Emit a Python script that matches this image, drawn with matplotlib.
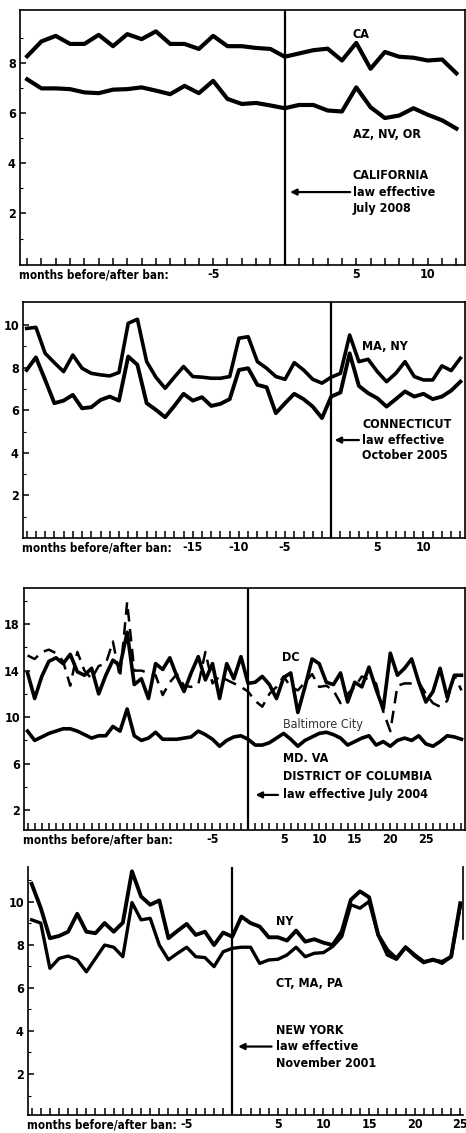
import numpy as np
import matplotlib
matplotlib.use("Agg")
import matplotlib.pyplot as plt
from matplotlib.ticker import FixedLocator, FixedFormatter
from matplotlib import font_manager as fm

plt.rcParams['font.family'] = ['DejaVu Sans']
plt.rcParams['font.stretch'] = 'condensed'
plt.rcParams['font.weight'] = 'bold'

# ---------------- data ----------------
# Panel 1: California (months -18 .. 12)
months_ca = np.arange(-18, 13)
ca = [8.26, 8.85, 9.07, 8.75, 8.75, 9.11, 8.66, 9.14, 8.94, 9.25, 8.75, 8.75, 8.55, 9.07,
      8.66, 8.66, 8.59, 8.55, 8.24, 8.37, 8.50, 8.56, 8.09, 8.79, 7.76, 8.43, 8.24, 8.20,
      8.09, 8.13, 7.58]
az_nv_or = [7.34, 6.98, 6.98, 6.95, 6.82, 6.79, 6.93, 6.95, 7.02, 6.89, 6.75, 7.08, 6.79,
            7.28, 6.56, 6.36, 6.40, 6.30, 6.19, 6.32, 6.32, 6.10, 6.06, 7.02, 6.23, 5.80,
            5.90, 6.19, 5.93, 5.71, 5.38]

# Panel 2: Connecticut (months -33 .. 14)
months_ct = np.arange(-33, 15)
ma_ny = [9.84, 9.89, 8.67, 8.23, 7.81, 8.59, 7.97, 7.73, 7.66, 7.61, 7.77, 10.08, 10.27,
         8.28, 7.55, 7.03, 7.55, 8.05, 7.58, 7.55, 7.50, 7.50, 7.58, 9.38, 9.45, 8.28,
         7.97, 7.58, 7.45, 8.23, 7.89, 7.45, 7.27, 7.55, 7.73, 9.53, 8.28, 8.39, 7.81,
         7.34, 7.73, 8.28, 7.58, 7.42, 7.42, 8.08, 7.86, 8.44]
ct = [7.89, 8.48, 7.42, 6.33, 6.45, 6.72, 6.09, 6.14, 6.48, 6.64, 6.45, 8.52, 8.13, 6.33,
      6.02, 5.67, 6.20, 6.77, 6.45, 6.61, 6.20, 6.30, 6.52, 7.89, 7.97, 7.19, 7.08, 5.86,
      6.33, 6.77, 6.52, 6.17, 5.63, 6.64, 6.83, 8.67, 7.14, 6.80, 6.56, 6.17, 6.52, 6.88,
      6.64, 6.77, 6.52, 6.64, 6.92, 7.34]

# Panel 3: District of Columbia (months -31 .. 30)
months_dc = np.arange(-31, 31)
dc = [13.8, 11.6, 13.5, 14.8, 15.1, 14.6, 15.4, 13.9, 13.6, 14.2, 12.0, 13.6, 14.9, 14.4,
      17.3, 12.8, 13.3, 11.6, 14.6, 14.1, 15.1, 13.5, 12.2, 13.8, 15.2, 13.2, 14.6, 11.6,
      14.6, 13.3, 15.2, 12.9, 13.0, 13.5, 12.8, 11.6, 13.4, 13.8, 10.4, 12.6, 15.0, 14.6,
      13.0, 12.8, 13.8, 11.3, 13.0, 12.6, 14.3, 12.4, 10.7, 15.5, 13.6, 14.2, 15.0, 13.0,
      11.3, 12.2, 14.2, 11.7, 13.6, 13.6]
baltimore = [15.3, 15.0, 15.6, 15.8, 15.5, 14.8, 12.7, 15.6, 14.0, 13.3, 14.4, 14.6, 16.5,
             13.4, 19.9, 14.0, 14.0, 13.8, 13.6, 11.9, 13.0, 13.7, 12.7, 12.6, 12.8, 15.6,
             12.9, 13.5, 13.2, 12.9, 12.6, 12.2, 11.4, 10.9, 12.0, 12.6, 13.5, 12.6, 12.3,
             13.0, 13.7, 12.6, 12.7, 12.3, 11.2, 12.0, 12.6, 13.5, 13.2, 12.9, 10.5, 8.8,
             12.7, 12.9, 12.9, 13.0, 12.0, 11.2, 10.9, 11.4, 13.6, 12.3]
md_va = [8.8, 8.0, 8.3, 8.6, 8.8, 9.0, 9.0, 8.8, 8.5, 8.2, 8.4, 8.4, 9.2, 8.8, 10.7, 8.4,
         8.0, 8.2, 8.7, 8.1, 8.1, 8.1, 8.2, 8.3, 8.8, 8.5, 8.1, 7.5, 8.0, 8.3, 8.4, 8.1,
         7.6, 7.6, 7.8, 8.2, 8.6, 8.1, 7.5, 8.0, 8.3, 8.6, 8.7, 8.5, 8.2, 7.6, 7.9, 8.2,
         8.4, 7.6, 7.9, 7.5, 8.0, 8.2, 8.0, 8.4, 7.7, 7.5, 7.9, 8.4, 8.3, 8.1]

# Panel 4: New York (months -22 .. 25)
months_ny = np.arange(-22, 26)
ny = [10.82, 9.70, 8.30, 8.40, 8.60, 9.43, 8.60, 8.53, 9.00, 8.60, 9.02, 11.40, 10.23,
      9.85, 10.05, 8.30, 8.64, 8.96, 8.45, 8.60, 7.98, 8.56, 8.37, 9.30, 9.00, 8.84, 8.34,
      8.34, 8.19, 8.65, 8.14, 8.25, 8.09, 7.98, 8.60, 10.08, 10.47, 10.20, 8.45, 7.75,
      7.36, 7.88, 7.52, 7.20, 7.29, 7.20, 7.44, 9.92]
ct_ma_pa = [9.15, 9.00, 6.90, 7.36, 7.47, 7.30, 6.74, 7.36, 7.98, 7.88, 7.44, 9.95, 9.15,
            9.22, 7.98, 7.30, 7.60, 7.88, 7.44, 7.40, 6.98, 7.67, 7.83, 7.88, 7.88, 7.13,
            7.29, 7.32, 7.52, 7.88, 7.44, 7.60, 7.63, 7.91, 8.37, 9.85, 9.69, 10.00, 8.45,
            7.52, 7.32, 7.88, 7.47, 7.16, 7.32, 7.13, 7.44, 9.77]

xlabels_ca = {-5: '-5', 5: '5', 10: '10'}
xlabels_ct = {-15: '-15', -10: '-10', -5: '-5', 5: '5', 10: '10'}
xlabels_dc = {-5: '-5', 5: '5', 10: '10', 15: '15', 20: '20', 25: '25'}
xlabels_ny = {-5: '-5', 5: '5', 10: '10', 15: '15', 20: '20', 25: '25'}

# ---------------- figure ----------------
W, H = 466, 1133
fig = plt.figure(figsize=(W / 100, H / 100), dpi=100)
FS = 9
FP = fm.FontProperties(family='DejaVu Sans', stretch='condensed', weight='bold', size=FS)
FP_LAB = fm.FontProperties(family='DejaVu Sans', stretch='condensed', weight='bold', size=8.4)


def px_axes(left, top, right, bottom):
    return fig.add_axes([left / W, 1 - bottom / H, (right - left) / W, (bottom - top) / H])


def setup(ax, xlim, ylim, months, xlabels, ymajor, yminor, top_spine=True, right_spine=True):
    ax.set_xlim(*xlim)
    ax.set_ylim(*ylim)
    for s in ax.spines.values():
        s.set_linewidth(1.2)
    ax.spines['top'].set_visible(top_spine)
    ax.spines['right'].set_visible(right_spine)
    ticks = list(months)
    ax.xaxis.set_major_locator(FixedLocator(ticks))
    ax.xaxis.set_major_formatter(FixedFormatter([xlabels.get(int(t), '') for t in ticks]))
    ax.yaxis.set_major_locator(FixedLocator(ymajor))
    ax.yaxis.set_major_formatter(FixedFormatter([str(v) for v in ymajor]))
    ax.yaxis.set_minor_locator(FixedLocator(yminor))
    ax.tick_params(axis='x', direction='in', length=5, width=1.1, pad=2, top=False)
    ax.tick_params(axis='y', which='major', direction='in', length=4, width=1.1, pad=3,
                   right=False)
    ax.tick_params(axis='y', which='minor', direction='in', length=2.5, width=0.8, right=False)
    for lab in ax.get_xticklabels() + ax.get_yticklabels():
        lab.set_fontproperties(FP)
    ax.annotate('months before/after ban:', xy=(0, 0), xycoords='axes fraction',
                xytext=(-1, -2.5), textcoords='offset points', ha='left', va='top',
                fontproperties=FP_LAB)
    ax.axvline(0, color='black', lw=1.6)


def note(ax, x, y, s, fp=FP, **kw):
    ax.text(x, y, s, transform=ax.transAxes, ha='left', va='center', fontproperties=fp, **kw)


def arrow(ax, x0, x1, y):
    ax.annotate('', xy=(x1, y), xytext=(x0, y), xycoords='axes fraction',
                arrowprops=dict(arrowstyle='-|>', lw=1.6, color='black',
                                mutation_scale=9, shrinkA=0, shrinkB=0))


# Panel 1
ax1 = px_axes(20, 10, 465, 265)
ax1.plot(months_ca, ca, color='black', lw=3.0)
ax1.plot(months_ca, az_nv_or, color='black', lw=3.0)
setup(ax1, (-18.5, 12.6), (-0.05, 10.1), months_ca, xlabels_ca, [2, 4, 6, 8], [1, 3, 5, 7, 9])
note(ax1, 0.748, 0.905, 'CA')
note(ax1, 0.748, 0.51, 'AZ, NV, OR')
note(ax1, 0.748, 0.286, 'CALIFORNIA\nlaw effective\nJuly 2008', linespacing=1.35)
arrow(ax1, 0.742, 0.607, 0.286)

# Panel 2
ax2 = px_axes(23, 302, 465, 538)
ax2.plot(months_ct, ma_ny, color='black', lw=2.6)
ax2.plot(months_ct, ct, color='black', lw=2.8)
setup(ax2, (-33.4, 14.5), (0, 11.08), months_ct, xlabels_ct, [2, 4, 6, 8, 10], [1, 3, 5, 7, 9])
note(ax2, 0.767, 0.81, 'MA, NY')
note(ax2, 0.767, 0.415, 'CONNECTICUT\nlaw effective\nOctober 2005', linespacing=1.25)
arrow(ax2, 0.76, 0.705, 0.415)

# Panel 3
ax3 = px_axes(24, 588, 465, 830)
ax3.plot(months_dc, baltimore, color='black', lw=1.8, dashes=(5, 3))
ax3.plot(months_dc, dc, color='black', lw=2.6)
ax3.plot(months_dc, md_va, color='black', lw=2.6)
setup(ax3, (-31.5, 30.5), (0.3, 21.1), months_dc, xlabels_dc, [2, 6, 10, 14, 18],
      [4, 8, 12, 16, 20])
note(ax3, 0.585, 0.711, 'DC')
note(ax3, 0.587, 0.434, 'Baltimore City',
     fp=fm.FontProperties(family='DejaVu Sans', stretch='condensed', weight='normal', size=FS),
     color='#333333')
note(ax3, 0.587, 0.296, 'MD. VA')
note(ax3, 0.587, 0.220, 'DISTRICT OF COLUMBIA')
note(ax3, 0.587, 0.145, 'law effective July 2004')
arrow(ax3, 0.576, 0.525, 0.145)

# Panel 4
ax4 = px_axes(28, 867, 463, 1115)
ax4.plot(months_ny, ny, color='black', lw=2.8)
ax4.plot(months_ny, ct_ma_pa, color='black', lw=2.4)
setup(ax4, (-22.4, 25.3), (0.1, 11.6), months_ny, xlabels_ny, [2, 4, 6, 8, 10],
      [1, 3, 5, 7, 9, 11], top_spine=False, right_spine=False)
ax4.plot([1, 1], [0.71, 1.0], transform=ax4.transAxes, color='black', lw=1.2, clip_on=False)
note(ax4, 0.570, 0.779, 'NY')
note(ax4, 0.570, 0.531, 'CT, MA, PA')
note(ax4, 0.570, 0.276, 'NEW YORK\nlaw effective\nNovember 2001', linespacing=1.35)
arrow(ax4, 0.560, 0.483, 0.276)

fig.savefig('out.png', dpi=100, facecolor='white')
